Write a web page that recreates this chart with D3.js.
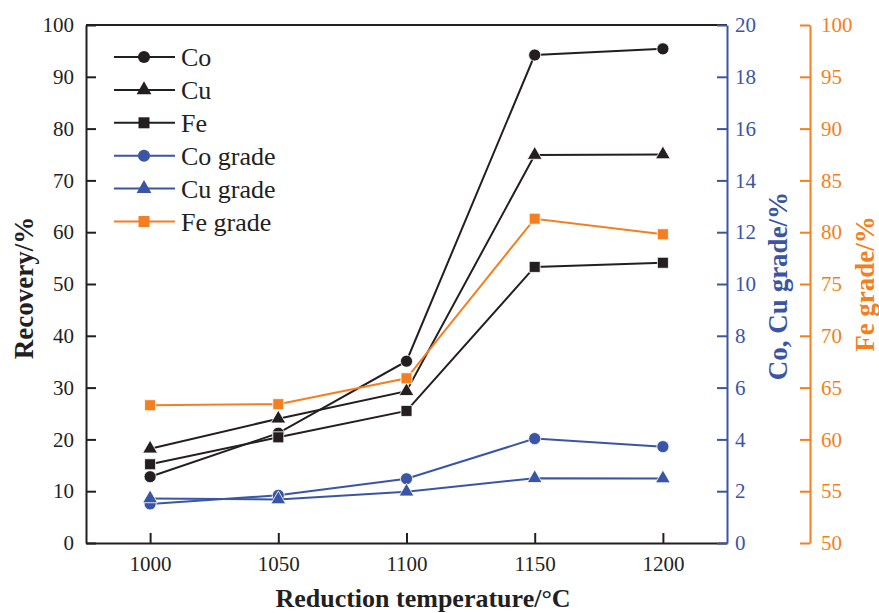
<!DOCTYPE html>
<html>
<head>
<meta charset="utf-8">
<script src="https://cdn.jsdelivr.net/npm/d3@7"></script>
<style>
  body { margin: 0; background: #fff; }
  svg { display: block; }
  text { font-family: "Liberation Serif", "Times New Roman", serif; }
</style>
</head>
<body>
<svg id="chart" width="879" height="613" font-family="Liberation Serif, Times New Roman, serif"></svg>
<script>
// ---- data ----
const temps = [1000, 1050, 1100, 1150, 1200];
const coRecovery = [12.8, 21.2, 35.1, 94.2, 95.4];
const cuRecovery = [18.2, 24.0, 29.3, 74.9, 75.0];
const feRecovery = [15.2, 20.4, 25.5, 53.3, 54.1];
const coGrade = [1.51, 1.84, 2.48, 4.03, 3.72];
const cuGrade = [1.72, 1.68, 1.98, 2.50, 2.49];
const feGrade = [63.3, 63.4, 65.9, 81.3, 79.8];

const leftTicks = [0, 10, 20, 30, 40, 50, 60, 70, 80, 90, 100];
const blueTicks = [0, 2, 4, 6, 8, 10, 12, 14, 16, 18, 20];
const orangeTicks = [50, 55, 60, 65, 70, 75, 80, 85, 90, 95, 100];

const BLACK = "#231f20", BLUE = "#3a55a5", ORANGE = "#f47f20";
const FONT = '"Liberation Serif", "Times New Roman", serif';

const svg = d3.select("#chart");
const L = 86, R = 727, T = 25, B = 543, ORX = 810;

const x = d3.scaleLinear().domain([975, 1225]).range([L, R]);
const yL = d3.scaleLinear().domain([0, 100]).range([B, T]);
const yB = d3.scaleLinear().domain([0, 20]).range([B, T]);
const yO = d3.scaleLinear().domain([50, 100]).range([B, T]);

// top frame line
svg.append("line").attr("x1", L).attr("x2", R).attr("y1", T).attr("y2", T)
  .attr("stroke", BLACK).attr("stroke-width", 2);

function styleAxis(g, color, fs) {
  g.attr("font-family", FONT).attr("font-size", fs);
  g.selectAll("path.domain").attr("stroke", color).attr("stroke-width", 2);
  g.selectAll(".tick line").attr("stroke", color).attr("stroke-width", 2);
  g.selectAll(".tick text").attr("fill", color).style("font-size", fs + "px")
    .style("font-family", FONT);
}

// bottom axis
const gx = svg.append("g").attr("transform", `translate(0,${B})`)
  .call(d3.axisBottom(x).tickValues(temps).tickFormat(d3.format("d")).tickSizeInner(-10).tickSizeOuter(0).tickPadding(13));
styleAxis(gx, BLACK, 21);

// left axis
const gl = svg.append("g").attr("transform", `translate(${L},0)`)
  .call(d3.axisLeft(yL).tickValues(leftTicks).tickSizeInner(-10).tickSizeOuter(0).tickPadding(12));
styleAxis(gl, BLACK, 21);

// blue right axis
const gb = svg.append("g").attr("transform", `translate(${R},0)`)
  .call(d3.axisRight(yB).tickValues(blueTicks).tickSizeInner(-10).tickSizeOuter(0).tickPadding(8));
styleAxis(gb, BLUE, 21);

// orange axis
const go = svg.append("g").attr("transform", `translate(${ORX},0)`)
  .call(d3.axisRight(yO).tickValues(orangeTicks).tickSizeInner(-10).tickSizeOuter(0).tickPadding(11));
styleAxis(go, ORANGE, 21);

// series
const series = [
  { name: "Co", values: coRecovery, y: yL, color: BLACK, sym: d3.symbolCircle, size: 115 },
  { name: "Cu", values: cuRecovery, y: yL, color: BLACK, sym: d3.symbolTriangle, size: 95 },
  { name: "Fe", values: feRecovery, y: yL, color: BLACK, sym: d3.symbolSquare, size: 121 },
  { name: "Co grade", values: coGrade, y: yB, color: BLUE, sym: d3.symbolCircle, size: 115 },
  { name: "Cu grade", values: cuGrade, y: yB, color: BLUE, sym: d3.symbolTriangle, size: 95 },
  { name: "Fe grade", values: feGrade, y: yO, color: ORANGE, sym: d3.symbolSquare, size: 121 }
];

series.forEach(s => {
  const pts = temps.map((t, i) => [x(t), s.y(s.values[i])]);
  svg.append("path").attr("d", d3.line()(pts))
    .attr("fill", "none").attr("stroke", s.color).attr("stroke-width", 2);
  svg.append("g").selectAll("path").data(pts).join("path")
    .attr("transform", d => `translate(${d[0]},${d[1]})`)
    .attr("d", d3.symbol().type(s.sym).size(s.size))
    .attr("fill", s.color).attr("stroke", "#fff").attr("stroke-width", 0.8);
});

// legend
const legY0 = 57, legDY = 32.9;
series.forEach((s, i) => {
  const yy = legY0 + i * legDY;
  const g = svg.append("g");
  g.append("line").attr("x1", 114).attr("x2", 175).attr("y1", yy).attr("y2", yy)
    .attr("stroke", s.color).attr("stroke-width", 2);
  g.append("path").attr("transform", `translate(144,${yy})`)
    .attr("d", d3.symbol().type(s.sym).size(s.size)).attr("fill", s.color);
  g.append("text").attr("x", 181).attr("y", yy).attr("dy", "0.35em")
    .attr("fill", BLACK).style("font-family", FONT).style("font-size", "26px").text(s.name);
});

// axis titles
svg.append("text").attr("x", 423).attr("y", 607).attr("text-anchor", "middle")
  .style("font-family", FONT).style("font-size", "26px").style("font-weight", "bold").attr("fill", BLACK)
  .text("Reduction temperature/°C");

svg.append("text").attr("transform", "translate(33,288) rotate(-90)")
  .attr("text-anchor", "middle").style("font-family", FONT).style("font-size", "27px").style("font-weight", "bold")
  .attr("fill", BLACK).text("Recovery/%");

svg.append("text").attr("transform", "translate(787,286) rotate(-90)")
  .attr("text-anchor", "middle").style("font-family", FONT).style("font-size", "27px").style("font-weight", "bold")
  .attr("fill", BLUE).text("Co, Cu grade/%");

svg.append("text").attr("transform", "translate(874,284) rotate(-90)")
  .attr("text-anchor", "middle").style("font-family", FONT).style("font-size", "27px").style("font-weight", "bold")
  .attr("fill", ORANGE).text("Fe grade/%");
</script>
</body>
</html>
